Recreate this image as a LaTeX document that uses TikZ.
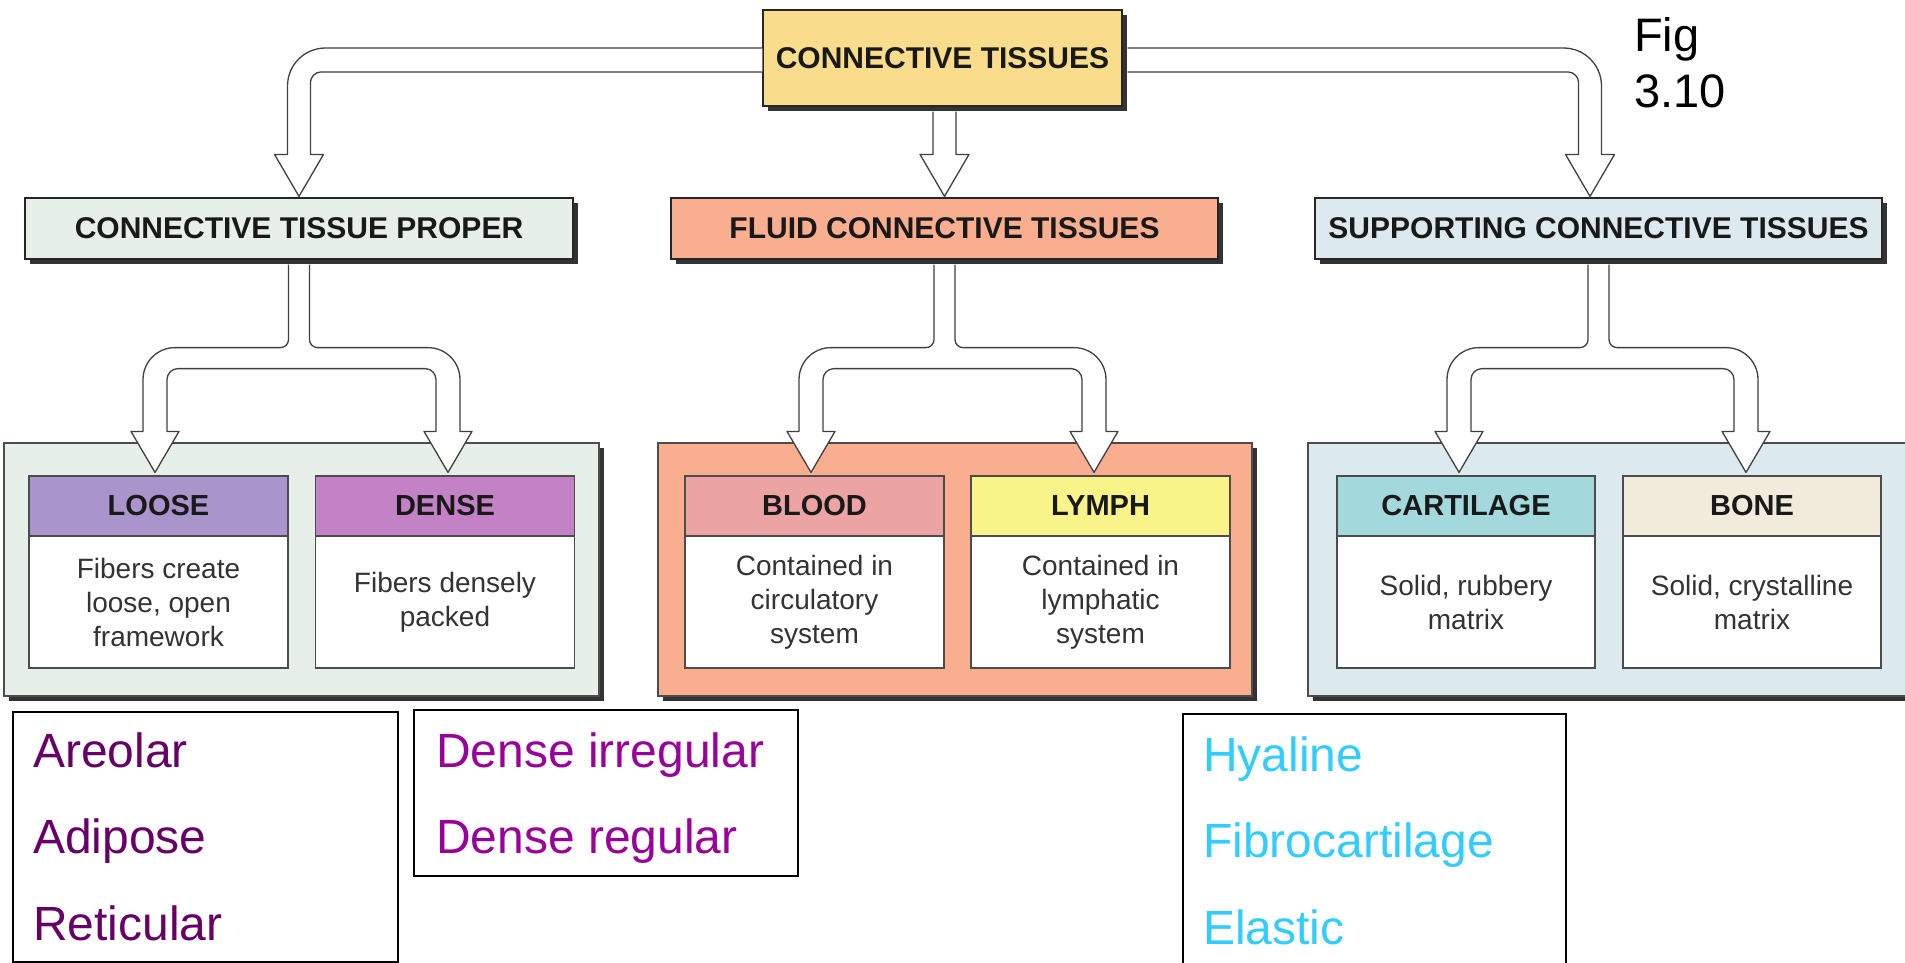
\documentclass[tikz,border=0pt]{standalone}
\usepackage{fontspec}
\setmainfont{Liberation Sans}
\usetikzlibrary{calc}
\definecolor{cTop}{HTML}{F9DD8C}
\definecolor{cProper}{HTML}{E6EFE8}
\definecolor{cFluid}{HTML}{F8AE8F}
\definecolor{cSupp}{HTML}{DCEAEF}
\definecolor{cLoose}{HTML}{A994CC}
\definecolor{cDense}{HTML}{C482C6}
\definecolor{cBlood}{HTML}{EBA3A3}
\definecolor{cLymph}{HTML}{F9F48A}
\definecolor{cCart}{HTML}{A3D9DD}
\definecolor{cBone}{HTML}{F1EBDB}
\definecolor{cAreo}{HTML}{660066}
\definecolor{cDreg}{HTML}{990099}
\definecolor{cHya}{HTML}{33CCFF}
\newcommand\splitarrow[5]{%
\draw[blk] let \p1=(#1.south), \p2=($(#2.north)+(#4,0)$), \p3=($(#3.north)+(#5,0)$) in
 (\x1-10.5pt,\y1-5pt) -- (\x1-10.5pt,\y1-80pt)
 .. controls (\x1-10.5pt,\y1-84.4pt) and (\x1-14.1pt,\y1-88pt) .. (\x1-18.5pt,\y1-88pt)
 -- (\x2+20pt,\y1-88pt)
 .. controls (\x2+2.3pt,\y1-88pt) and (\x2-12pt,\y1-102.3pt) .. (\x2-12pt,\y1-120pt)
 -- (\x2-12pt,\y2+44pt) -- (\x2-24pt,\y2+44pt) -- (\x2,\y2+3pt) -- (\x2+24pt,\y2+44pt) -- (\x2+12pt,\y2+44pt)
 -- (\x2+12pt,\y1-120pt)
 .. controls (\x2+12pt,\y1-113.9pt) and (\x2+16.9pt,\y1-109pt) .. (\x2+23pt,\y1-109pt)
 -- (\x3-23pt,\y1-109pt)
 .. controls (\x3-16.9pt,\y1-109pt) and (\x3-12pt,\y1-113.9pt) .. (\x3-12pt,\y1-120pt)
 -- (\x3-12pt,\y3+44pt) -- (\x3-24pt,\y3+44pt) -- (\x3,\y3+3pt) -- (\x3+24pt,\y3+44pt) -- (\x3+12pt,\y3+44pt)
 -- (\x3+12pt,\y1-120pt)
 .. controls (\x3+12pt,\y1-102.3pt) and (\x3-2.3pt,\y1-88pt) .. (\x3-20pt,\y1-88pt)
 -- (\x1+18.5pt,\y1-88pt)
 .. controls (\x1+14.1pt,\y1-88pt) and (\x1+10.5pt,\y1-84.4pt) .. (\x1+10.5pt,\y1-80pt)
 -- (\x1+10.5pt,\y1-5pt);}
\begin{document}
\begin{tikzpicture}[x=1pt,y=-1pt,
 shad/.style={preaction={fill=black!80,transform canvas={shift={(5pt,-5pt)}}}},
 mainbox/.style={shad,draw=black!85,line width=1.2pt,inner sep=0pt,minimum height=61pt,font=\bfseries\fontsize{30}{36}\selectfont,text=black!90},
 container/.style={shad,draw=black!70,line width=1.2pt,inner sep=0pt,minimum height=253pt},
 hdr/.style={draw=black!70,line width=1.2pt,minimum width=259pt,minimum height=60pt,inner sep=0pt,font=\bfseries\fontsize{29}{35}\selectfont,text=black!90},
 bodyb/.style={draw=black!70,fill=white,line width=1.2pt,minimum width=259pt,minimum height=132pt,inner sep=0pt,align=center,font=\fontsize{28}{34}\selectfont,text=black!80},
 blk/.style={draw=black!75,line width=1.3pt,fill=white,line join=round},
 listbox/.style={draw=black,line width=1.5pt,anchor=north west,inner sep=0pt},
 listtxt/.style={anchor=base west,inner sep=0pt,font=\fontsize{48}{58}\selectfont},
]
\useasboundingbox (0,0) rectangle (1905,962);
\clip (0,0) rectangle (1905,962);
\fill[white] (0,0) rectangle (1905,962);

% containers
\node[container,fill=cProper,minimum width=595pt] (cproper) at (301.5,569.5) {};
\node[container,fill=cFluid,minimum width=594pt] (cfluid) at (955,569.5) {};
\node[container,fill=cSupp,minimum width=602pt] (csupp) at (1609,569.5) {};

% inner boxes
\node[bodyb] (bloose) at (158.5,602) {Fibers create\\loose, open\\framework};
\node[hdr,fill=cLoose] (loose) at (158.5,506) {LOOSE};
\node[bodyb] (bdense) at (445,602) {Fibers densely\\packed};
\node[hdr,fill=cDense] (dense) at (445,506) {DENSE};
\node[bodyb] (bblood) at (814.5,602) {Contained in\\circulatory\\system};
\node[hdr,fill=cBlood] (blood) at (814.5,506) {BLOOD};
\node[bodyb] (blymph) at (1100.5,602) {Contained in\\lymphatic\\system};
\node[hdr,fill=cLymph] (lymph) at (1100.5,506) {LYMPH};
\node[bodyb,minimum width=258pt] (bcart) at (1466,602) {Solid, rubbery\\matrix};
\node[hdr,fill=cCart,minimum width=258pt] (cart) at (1466,506) {CARTILAGE};
\node[bodyb,minimum width=258pt] (bbone) at (1752,602) {Solid, crystalline\\matrix};
\node[hdr,fill=cBone,minimum width=258pt] (bone) at (1752,506) {BONE};

% main boxes
\node[mainbox,fill=cTop,minimum width=359pt,minimum height=96pt] (ct) at (942.5,58) {CONNECTIVE TISSUES};
\node[mainbox,fill=cProper,minimum width=548pt] (ctp) at (299,228.5) {CONNECTIVE TISSUE PROPER};
\node[mainbox,fill=cFluid,minimum width=547pt] (fluid) at (944.5,228.5) {FLUID CONNECTIVE TISSUES};
\node[mainbox,fill=cSupp,minimum width=567pt] (sup) at (1598.5,228.5) {SUPPORTING CONNECTIVE TISSUES};

% figure label
\node[anchor=base west,inner sep=0pt,font=\fontsize{47}{56}\selectfont] (fig1) at (1634,51) {Fig};
\node[anchor=base west,inner sep=0pt,font=\fontsize{47}{56}\selectfont] (fig2) at (1634,107) {3.10};

% top arrows
\draw[blk] let \p1=(ct.west), \p2=(ctp.north) in
 (\x1,\y1+10pt) -- (\x2+26.5pt,\y1+10pt)
 .. controls (\x2+5.5pt,\y1+10pt) and (\x2-11.5pt,\y1-7pt) .. (\x2-11.5pt,\y1-28pt)
 -- (\x2-11.5pt,\y2+43pt) -- (\x2-24.5pt,\y2+43pt) -- (\x2,\y2+1pt) -- (\x2+24.5pt,\y2+43pt) -- (\x2+11.5pt,\y2+43pt)
 -- (\x2+11.5pt,\y1-24pt)
 .. controls (\x2+11.5pt,\y1-19.5pt) and (\x2+16pt,\y1-14pt) .. (\x2+21.5pt,\y1-14pt)
 -- (\x1,\y1-14pt);
\draw[blk] let \p1=(ct.east), \p2=($(sup.north)+(-8.5,0)$) in
 (\x1+5pt,\y1+10pt) -- (\x2-26.5pt,\y1+10pt)
 .. controls (\x2-5.5pt,\y1+10pt) and (\x2+11.5pt,\y1-7pt) .. (\x2+11.5pt,\y1-28pt)
 -- (\x2+11.5pt,\y2+43pt) -- (\x2+24.5pt,\y2+43pt) -- (\x2,\y2+1pt) -- (\x2-24.5pt,\y2+43pt) -- (\x2-11.5pt,\y2+43pt)
 -- (\x2-11.5pt,\y1-24pt)
 .. controls (\x2-11.5pt,\y1-19.5pt) and (\x2-16pt,\y1-14pt) .. (\x2-21.5pt,\y1-14pt)
 -- (\x1+5pt,\y1-14pt);
\draw[blk] let \p1=(ct.south), \p2=(fluid.north) in
 (\x2-11.5pt,\y1-5pt) -- (\x2-11.5pt,\y2+43pt) -- (\x2-24.5pt,\y2+43pt) -- (\x2,\y2+1pt)
 -- (\x2+24.5pt,\y2+43pt) -- (\x2+11.5pt,\y2+43pt) -- (\x2+11.5pt,\y1-5pt);

% split arrows
\splitarrow{ctp}{loose}{dense}{-3.5}{3}
\splitarrow{fluid}{blood}{lymph}{-3.5}{-6.5}
\splitarrow{sup}{cart}{bone}{-7}{-6}

% lists
\node[listbox,minimum width=385pt,minimum height=250pt] (list1) at (12,711) {};
\node[listtxt,text=cAreo] (areolar) at (33,767) {Areolar};
\node[listtxt,text=cAreo] (adipose) at (33,853) {Adipose};
\node[listtxt,text=cAreo] (reticular) at (33,940) {Reticular};
\node[listbox,minimum width=384pt,minimum height=166pt] (list2) at (413,709) {};
\node[listtxt,text=cDreg] (dirr) at (436,767) {Dense irregular};
\node[listtxt,text=cDreg] (dreg) at (436,853) {Dense regular};
\node[listbox,minimum width=383pt,minimum height=270pt] (list3) at (1182,713) {};
\node[listtxt,text=cHya] (hyaline) at (1203,771) {Hyaline};
\node[listtxt,text=cHya] (fibro) at (1203,857) {Fibrocartilage};
\node[listtxt,text=cHya] (elastic) at (1203,944) {Elastic};
\end{tikzpicture}
\end{document}
